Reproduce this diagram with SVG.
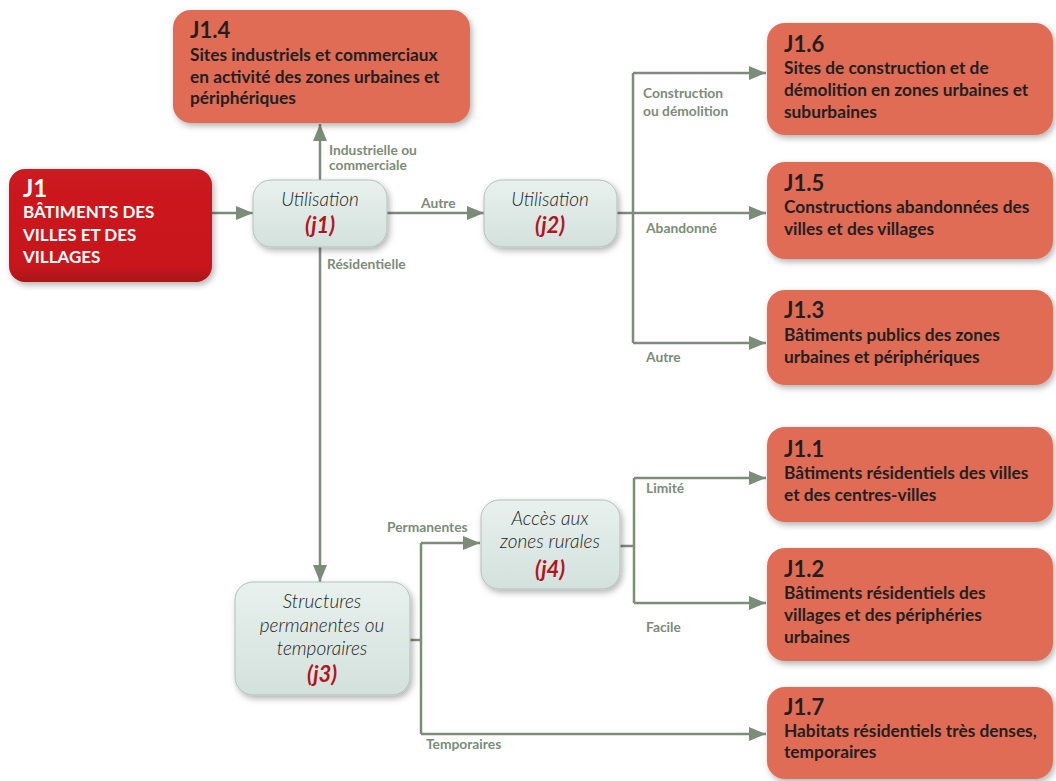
<svg xmlns="http://www.w3.org/2000/svg" width="1056" height="781" viewBox="0 0 1056 781">
<defs>
<filter id="sh" x="-10%" y="-10%" width="125%" height="130%">
<feDropShadow dx="2" dy="3" stdDeviation="3" flood-color="#000" flood-opacity="0.3"/>
</filter>
<linearGradient id="gq" x1="0" y1="0" x2="0" y2="1">
<stop offset="0" stop-color="#e8f1ee"/>
<stop offset="1" stop-color="#d3e1dc"/>
</linearGradient>
<linearGradient id="gj1" x1="0" y1="0" x2="0" y2="1">
<stop offset="0" stop-color="#cc1a20"/>
<stop offset="0.85" stop-color="#c8161d"/>
<stop offset="1" stop-color="#a81218"/>
</linearGradient>
<marker id="ah" markerWidth="18" markerHeight="14" refX="17" refY="7" orient="auto" markerUnits="userSpaceOnUse">
<path d="M0,0 L17,7 L0,14 Z" fill="#7b8c79"/>
</marker>
<style>
.hab{fill:#e06c55;filter:url(#sh)}
.q{fill:url(#gq);stroke:#b3bfbb;stroke-width:1;filter:url(#sh)}
.t{font-family:Lato,"Open Sans",sans-serif;font-weight:700;fill:#231f20}
.code{font-size:22px}
.body{font-size:17.3px}
.qi{font-family:Lato,"Open Sans",sans-serif;font-style:italic;font-weight:300;font-size:19px;fill:#222;text-anchor:middle}
.qc{font-family:Lato,"Open Sans",sans-serif;font-style:italic;font-weight:700;font-size:22px;fill:#b3151d;text-anchor:middle}
.lab{font-family:Lato,"Open Sans",sans-serif;font-weight:700;font-size:13.8px;fill:#7b8c79}
.c{fill:none;stroke:#7b8c79;stroke-width:2.5}
.w{fill:#fff}
</style>
</defs>
<rect width="1056" height="781" fill="#fff"/>

<g id="connectors">
<path class="c" d="M212,213 H253" marker-end="url(#ah)"/>
<path class="c" d="M320,180 V124" marker-end="url(#ah)"/>
<path class="c" d="M387,213 H484" marker-end="url(#ah)"/>
<path class="c" d="M320,247 V582" marker-end="url(#ah)"/>
<path class="c" d="M617,213 H633"/>
<path class="c" d="M633,73 V343"/>
<path class="c" d="M633,73 H766" marker-end="url(#ah)"/>
<path class="c" d="M633,213 H766" marker-end="url(#ah)"/>
<path class="c" d="M633,343 H766" marker-end="url(#ah)"/>
<path class="c" d="M410,640 H421"/>
<path class="c" d="M421,543 V734"/>
<path class="c" d="M421,543 H480" marker-end="url(#ah)"/>
<path class="c" d="M421,734 H766" marker-end="url(#ah)"/>
<path class="c" d="M620,546 H634"/>
<path class="c" d="M634,478 V603"/>
<path class="c" d="M634,478 H766" marker-end="url(#ah)"/>
<path class="c" d="M634,603 H766" marker-end="url(#ah)"/>
<text class="lab" x="329" y="155" font-size="13">Industrielle ou</text>
<text class="lab" x="329" y="170" font-size="13">commerciale</text>
<text class="lab" x="421" y="208">Autre</text>
<text class="lab" x="327" y="269">Résidentielle</text>
<text class="lab" x="643" y="98">Construction</text>
<text class="lab" x="643" y="116">ou démolition</text>
<text class="lab" x="646" y="233">Abandonné</text>
<text class="lab" x="646" y="362">Autre</text>
<text class="lab" x="646" y="493">Limité</text>
<text class="lab" x="646" y="632">Facile</text>
<text class="lab" x="387" y="532">Permanentes</text>
<text class="lab" x="426" y="749">Temporaires</text>
</g>

<g id="J1">
<rect x="9" y="169" width="203" height="113" rx="16" fill="url(#gj1)" filter="url(#sh)"/>
<text class="t w" x="23" y="197" font-size="24">J1</text>
<text class="t w" x="23" y="218" font-size="17">BÂTIMENTS DES</text>
<text class="t w" x="23" y="241" font-size="17">VILLES ET DES</text>
<text class="t w" x="23" y="263" font-size="17">VILLAGES</text>
</g>

<g id="J1.4">
<rect class="hab" x="173" y="10" width="297" height="113" rx="18"/>
<text class="t code" x="190" y="38">J1.4</text>
<text class="t body" x="190" y="61">Sites industriels et commerciaux</text>
<text class="t body" x="190" y="83">en activité des zones urbaines et</text>
<text class="t body" x="190" y="104">périphériques</text>
</g>

<g id="j1">
<rect class="q" x="253" y="180" width="134" height="67" rx="18"/>
<text class="qi" x="320" y="206">Utilisation</text>
<text class="qc" x="320" y="233">(j1)</text>
</g>

<g id="j2">
<rect class="q" x="484" y="180" width="133" height="67" rx="18"/>
<text class="qi" x="550" y="206">Utilisation</text>
<text class="qc" x="550" y="233">(j2)</text>
</g>

<g id="j3">
<rect class="q" x="235" y="582" width="175" height="113" rx="18"/>
<text class="qi" x="322" y="608">Structures</text>
<text class="qi" x="322" y="632">permanentes ou</text>
<text class="qi" x="322" y="655">temporaires</text>
<text class="qc" x="322" y="682">(j3)</text>
</g>

<g id="j4">
<rect class="q" x="481" y="500" width="139" height="89" rx="18"/>
<text class="qi" x="550" y="525">Accès aux</text>
<text class="qi" x="550" y="548">zones rurales</text>
<text class="qc" x="550" y="577">(j4)</text>
</g>

<g id="J1.6">
<rect class="hab" x="767" y="23" width="286" height="112" rx="18"/>
<text class="t code" x="784" y="52">J1.6</text>
<text class="t body" x="784" y="74">Sites de construction et de</text>
<text class="t body" x="784" y="96">démolition en zones urbaines et</text>
<text class="t body" x="784" y="118">suburbaines</text>
</g>

<g id="J1.5">
<rect class="hab" x="767" y="162" width="286" height="97" rx="18"/>
<text class="t code" x="784" y="191">J1.5</text>
<text class="t body" x="784" y="213">Constructions abandonnées des</text>
<text class="t body" x="784" y="235">villes et des villages</text>
</g>

<g id="J1.3">
<rect class="hab" x="767" y="290" width="286" height="95" rx="18"/>
<text class="t code" x="784" y="318">J1.3</text>
<text class="t body" x="784" y="341">Bâtiments publics des zones</text>
<text class="t body" x="784" y="363">urbaines et périphériques</text>
</g>

<g id="J1.1">
<rect class="hab" x="767" y="427" width="286" height="95" rx="18"/>
<text class="t code" x="784" y="457">J1.1</text>
<text class="t body" x="784" y="479">Bâtiments résidentiels des villes</text>
<text class="t body" x="784" y="501">et des centres-villes</text>
</g>

<g id="J1.2">
<rect class="hab" x="767" y="548" width="286" height="113" rx="18"/>
<text class="t code" x="784" y="577">J1.2</text>
<text class="t body" x="784" y="599">Bâtiments résidentiels des</text>
<text class="t body" x="784" y="621">villages et des périphéries</text>
<text class="t body" x="784" y="643">urbaines</text>
</g>

<g id="J1.7">
<rect class="hab" x="767" y="687" width="286" height="92" rx="18"/>
<text class="t code" x="784" y="715">J1.7</text>
<text class="t body" x="784" y="737">Habitats résidentiels très denses,</text>
<text class="t body" x="784" y="758">temporaires</text>
</g>
</svg>
